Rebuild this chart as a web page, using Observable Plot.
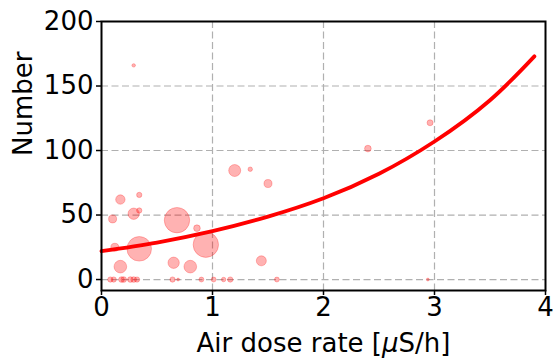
<!DOCTYPE html>
<html>
<head>
<meta charset="utf-8">
<script src="https://cdn.jsdelivr.net/npm/d3@7"></script>
<script src="https://cdn.jsdelivr.net/npm/@observablehq/plot@0.6"></script>
<style>
  body { margin: 0; background: white; }
  svg { overflow: visible; }
</style>
</head>
<body>
<div id="chart"></div>
<script>
// Bubble data: air dose rate (µS/h), number, weight (bubble area)
const doseRate = [1.20, 1.34, 1.50, 0.17, 0.34, 0.29, 0.34, 0.10, 0.68, 0.86, 0.12, 0.34, 0.94, 0.17, 0.65, 0.80, 1.44, 0.29, 2.40, 2.96, 2.94,
                  0.08, 0.11, 0.18, 0.20, 0.26, 0.29, 0.32, 0.64, 0.69, 0.90, 1.01, 1.10, 1.16, 1.58];
const counts   = [84.5, 85.5, 74.4, 62, 65.6, 51, 53.5, 47, 46, 39.8, 25, 23.8, 27, 10, 13, 10, 14.5, 166, 101.5, 121.5, 0,
                  0, 0, 0, 0, 0, 0, 0, 0, 0, 0, 0, 0, 0, 0];
const weights  = [36, 5, 16, 22, 7, 32, 7, 16, 161, 11, 16, 151, 161, 40, 32, 40, 25, 3, 11, 9, 2,
                  7, 7, 8, 8, 8, 8, 7, 7, 2, 6, 6, 5, 7, 6];

// Fitted curve
const fitX = [0, 0.5, 1.0, 1.5, 2.0, 2.5, 3.0, 3.5, 3.9];
const fitY = [22, 28.7, 37.5, 48.8, 63, 82, 107, 139, 173];

const xTicks = [0, 1, 2, 3, 4];
const yTicks = [0, 50, 100, 150, 200];
const xLabel = "Air dose rate [\u03BCS/h]";
const yLabel = "Number";

const points = doseRate.map((d, i) => ({x: d, y: counts[i], w: weights[i]}));
const fit = fitX.map((d, i) => ({x: d, y: fitY[i]}));

const FS = 26;
const chart = Plot.plot({
  width: 553,
  height: 360,
  marginLeft: 101,
  marginRight: 8,
  marginTop: 21,
  marginBottom: 70,
  style: {fontFamily: "DejaVu Sans", fontSize: FS + "px", color: "black", background: "white"},
  x: {domain: [0, 4]},
  y: {domain: [-8.5, 200]},
  r: {type: "sqrt", domain: [0, 160], range: [0, 12.65]},
  marks: [
    Plot.gridX([1, 2, 3], {stroke: "#b0b0b0", strokeOpacity: 1, strokeWidth: 1.2, strokeDasharray: "7,3.5"}),
    Plot.gridY([0, 50, 100, 150], {stroke: "#b0b0b0", strokeOpacity: 1, strokeWidth: 1.2, strokeDasharray: "7,3.5"}),
    Plot.dot(points, {x: "x", y: "y", r: "w", fill: "red", fillOpacity: 0.3, stroke: "red", strokeOpacity: 0.25, strokeWidth: 1}),
    Plot.line(fit, {x: "x", y: "y", stroke: "red", strokeWidth: 3.8, curve: "natural"}),
    Plot.frame({stroke: "black", strokeWidth: 2}),
    Plot.axisX(xTicks, {tickSize: 5, tickPadding: 2, strokeWidth: 1.5, label: null, fontSize: FS}),
    Plot.axisY(yTicks, {tickSize: 5, tickPadding: 3, strokeWidth: 1.5, label: null, fontSize: FS}),
    Plot.text([xLabel], {frameAnchor: "bottom", dy: 53, fontSize: FS, fill: "black", lineAnchor: "middle", className: "xlab"}),
    Plot.text([yLabel], {frameAnchor: "left", dx: -78, rotate: -90, fontSize: FS, fill: "black", lineAnchor: "middle"})
  ]
});
document.getElementById("chart").appendChild(chart);
// italic mu as in the reference (math text)
const t = chart.querySelector(".xlab text");
if (t) {
  t.textContent = "";
  const parts = [["Air dose rate [", null], ["\u03BC", "italic"], ["S/h]", null]];
  for (const [s, st] of parts) {
    const ts = document.createElementNS("http://www.w3.org/2000/svg", "tspan");
    ts.textContent = s;
    if (st) ts.setAttribute("font-style", st);
    t.appendChild(ts);
  }
}
</script>
</body>
</html>
